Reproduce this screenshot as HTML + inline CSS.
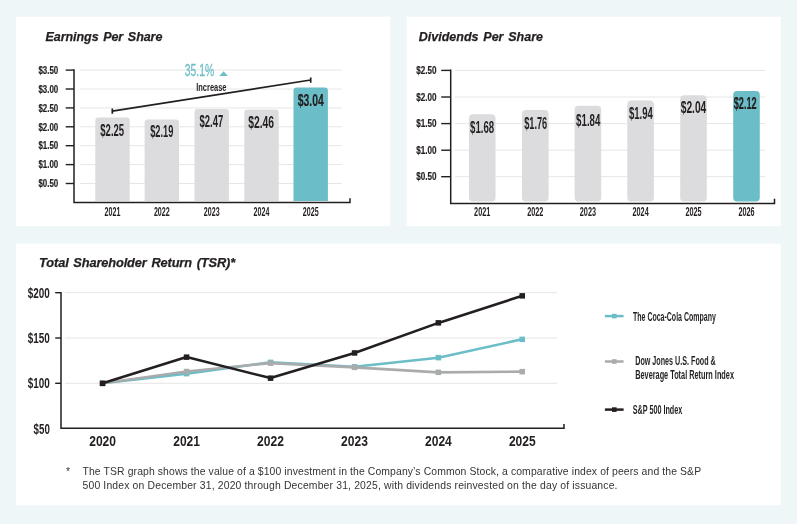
<!DOCTYPE html>
<html lang="en">
<head>
<meta charset="utf-8">
<title>Financial Highlights</title>
<style>
html,body{margin:0;padding:0}
body{width:797px;height:524px;background:#eef6f8;position:relative;overflow:hidden;font-family:"Liberation Sans",sans-serif;color:#231f20}
.card{position:absolute;background:#fff;margin:0}
#eps{left:16px;top:17px;width:374px;height:209px}
#dps{left:407px;top:17px;width:373px;height:209px}
#tsr{left:16px;top:244px;width:764px;height:261px}
h2{position:absolute;margin:0;font:italic bold 12.5px/14px "Liberation Sans",sans-serif;white-space:nowrap;color:#231f20;word-spacing:1.3px;letter-spacing:-0.07px;-webkit-text-stroke:0.25px #231f20}
svg{position:absolute;left:0;top:0;overflow:visible}
svg text{font-family:"Liberation Sans",sans-serif}
.note{position:absolute;left:50px;top:220.6px;margin:0;font:10.4px/14px "Liberation Sans",sans-serif;color:#343436;white-space:nowrap}
.note .l1{letter-spacing:0.113px}
.note .l2{letter-spacing:0.159px}
.note .star{position:absolute;left:0;top:0}
.note .txt{position:absolute;left:16.5px;top:0}
</style>
</head>
<body>
<svg class="bg" width="797" height="524" viewBox="0 0 797 524" aria-hidden="true">
<rect x="16" y="16.7" width="374.3" height="209.3" fill="#fff"/>
<rect x="406.6" y="16.7" width="374.1" height="209.3" fill="#fff"/>
<rect x="16" y="243.6" width="764.7" height="261.7" fill="#fff"/>
</svg>
<section class="card" id="eps">
<h2 style="left:29.6px;top:12.6px">Earnings Per Share</h2>
<svg width="374" height="209" viewBox="16 17 374 209" role="img" aria-label="Earnings Per Share bar chart">
<line x1="80" x2="342" y1="183.5" y2="183.5" stroke="#e6e6e6" stroke-width="1"/>
<line x1="80" x2="342" y1="164.6" y2="164.6" stroke="#e6e6e6" stroke-width="1"/>
<line x1="80" x2="342" y1="145.7" y2="145.7" stroke="#e6e6e6" stroke-width="1"/>
<line x1="80" x2="342" y1="126.8" y2="126.8" stroke="#e6e6e6" stroke-width="1"/>
<line x1="80" x2="342" y1="107.9" y2="107.9" stroke="#e6e6e6" stroke-width="1"/>
<line x1="80" x2="342" y1="89.0" y2="89.0" stroke="#e6e6e6" stroke-width="1"/>
<line x1="80" x2="342" y1="70.1" y2="70.1" stroke="#e6e6e6" stroke-width="1"/>
<path d="M95.3 201.0 V120.4 Q95.3 117.4 98.3 117.4 H126.7 Q129.7 117.4 129.7 120.4 V201.0 Z" fill="#dcdcde"/>
<path d="M144.6 201.0 V122.6 Q144.6 119.6 147.6 119.6 H176.0 Q179.0 119.6 179.0 122.6 V201.0 Z" fill="#dcdcde"/>
<path d="M194.5 201.0 V112.0 Q194.5 109.0 197.5 109.0 H225.9 Q228.9 109.0 228.9 112.0 V201.0 Z" fill="#dcdcde"/>
<path d="M244.3 201.0 V112.4 Q244.3 109.4 247.3 109.4 H275.7 Q278.7 109.4 278.7 112.4 V201.0 Z" fill="#dcdcde"/>
<path d="M293.5 201.0 V90.5 Q293.5 87.5 296.5 87.5 H324.9 Q327.9 87.5 327.9 90.5 V201.0 Z" fill="#6bbec7"/>
<path d="M74 69.3 V202.6 H350 V198.3" fill="none" stroke="#231f20" stroke-width="1.5"/>
<line x1="65.7" x2="74" y1="183.5" y2="183.5" stroke="#231f20" stroke-width="1.4"/>
<text x="38.4" y="187.2" font-size="11.4" font-weight="bold" fill="#231f20" textLength="19.8" lengthAdjust="spacingAndGlyphs" stroke="#231f20" stroke-width="0.2">$0.50</text>
<line x1="65.7" x2="74" y1="164.6" y2="164.6" stroke="#231f20" stroke-width="1.4"/>
<text x="38.4" y="168.3" font-size="11.4" font-weight="bold" fill="#231f20" textLength="19.8" lengthAdjust="spacingAndGlyphs" stroke="#231f20" stroke-width="0.2">$1.00</text>
<line x1="65.7" x2="74" y1="145.7" y2="145.7" stroke="#231f20" stroke-width="1.4"/>
<text x="38.4" y="149.4" font-size="11.4" font-weight="bold" fill="#231f20" textLength="19.8" lengthAdjust="spacingAndGlyphs" stroke="#231f20" stroke-width="0.2">$1.50</text>
<line x1="65.7" x2="74" y1="126.8" y2="126.8" stroke="#231f20" stroke-width="1.4"/>
<text x="38.4" y="130.5" font-size="11.4" font-weight="bold" fill="#231f20" textLength="19.8" lengthAdjust="spacingAndGlyphs" stroke="#231f20" stroke-width="0.2">$2.00</text>
<line x1="65.7" x2="74" y1="107.9" y2="107.9" stroke="#231f20" stroke-width="1.4"/>
<text x="38.4" y="111.6" font-size="11.4" font-weight="bold" fill="#231f20" textLength="19.8" lengthAdjust="spacingAndGlyphs" stroke="#231f20" stroke-width="0.2">$2.50</text>
<line x1="65.7" x2="74" y1="89.0" y2="89.0" stroke="#231f20" stroke-width="1.4"/>
<text x="38.4" y="92.7" font-size="11.4" font-weight="bold" fill="#231f20" textLength="19.8" lengthAdjust="spacingAndGlyphs" stroke="#231f20" stroke-width="0.2">$3.00</text>
<line x1="65.7" x2="74" y1="70.1" y2="70.1" stroke="#231f20" stroke-width="1.4"/>
<text x="38.4" y="73.8" font-size="11.4" font-weight="bold" fill="#231f20" textLength="19.8" lengthAdjust="spacingAndGlyphs" stroke="#231f20" stroke-width="0.2">$3.50</text>
<text x="104.6" y="215.8" font-size="12.3" font-weight="bold" fill="#231f20" textLength="15.8" lengthAdjust="spacingAndGlyphs">2021</text>
<text x="100.3" y="135.7" font-size="16.5" font-weight="bold" fill="#231f20" textLength="23.8" lengthAdjust="spacingAndGlyphs">$2.25</text>
<text x="153.9" y="215.8" font-size="12.3" font-weight="bold" fill="#231f20" textLength="15.8" lengthAdjust="spacingAndGlyphs">2022</text>
<text x="150.2" y="136.6" font-size="16.5" font-weight="bold" fill="#231f20" textLength="23.2" lengthAdjust="spacingAndGlyphs">$2.19</text>
<text x="203.8" y="215.8" font-size="12.3" font-weight="bold" fill="#231f20" textLength="15.8" lengthAdjust="spacingAndGlyphs">2023</text>
<text x="199.5" y="126.9" font-size="16.5" font-weight="bold" fill="#231f20" textLength="23.7" lengthAdjust="spacingAndGlyphs">$2.47</text>
<text x="253.6" y="215.8" font-size="12.3" font-weight="bold" fill="#231f20" textLength="15.8" lengthAdjust="spacingAndGlyphs">2024</text>
<text x="248.2" y="127.7" font-size="16.5" font-weight="bold" fill="#231f20" textLength="25.8" lengthAdjust="spacingAndGlyphs">$2.46</text>
<text x="302.8" y="215.8" font-size="12.3" font-weight="bold" fill="#231f20" textLength="15.8" lengthAdjust="spacingAndGlyphs">2025</text>
<text x="297.8" y="105.7" font-size="16.5" font-weight="bold" fill="#231f20" textLength="26.0" lengthAdjust="spacingAndGlyphs" stroke="#231f20" stroke-width="0.2">$3.04</text>
<path d="M112.3 111.2 L310.7 80 M112.3 108.6 V113.8 M310.7 77.4 V82.8" fill="none" stroke="#231f20" stroke-width="1.7"/>
<text x="184.8" y="76.2" font-size="17.4" font-weight="normal" fill="#6bbec7" textLength="29.3" lengthAdjust="spacingAndGlyphs" stroke="#6bbec7" stroke-width="0.3">35.1%</text>
<path d="M219.3 76 L223.6 71.2 L227.9 76 Z" fill="#6bbec7"/>
<text x="196.2" y="90.7" font-size="11.2" font-weight="bold" fill="#231f20" textLength="30.3" lengthAdjust="spacingAndGlyphs">Increase</text>
</svg>
</section>
<section class="card" id="dps">
<h2 style="left:11.8px;top:12.6px;letter-spacing:0">Dividends Per Share</h2>
<svg width="373" height="209" viewBox="407 17 373 209" role="img" aria-label="Dividends Per Share bar chart">
<line x1="455" x2="765" y1="176.7" y2="176.7" stroke="#e6e6e6" stroke-width="1"/>
<line x1="455" x2="765" y1="150.2" y2="150.2" stroke="#e6e6e6" stroke-width="1"/>
<line x1="455" x2="765" y1="123.6" y2="123.6" stroke="#e6e6e6" stroke-width="1"/>
<line x1="455" x2="765" y1="97.0" y2="97.0" stroke="#e6e6e6" stroke-width="1"/>
<line x1="455" x2="765" y1="70.4" y2="70.4" stroke="#e6e6e6" stroke-width="1"/>
<rect x="468.9" y="114.3" width="26.6" height="87.3" rx="4" ry="4" fill="#dcdcde"/>
<rect x="522.0" y="110.1" width="26.6" height="91.5" rx="4" ry="4" fill="#dcdcde"/>
<rect x="574.6" y="105.8" width="26.6" height="95.8" rx="4" ry="4" fill="#dcdcde"/>
<rect x="627.3" y="100.5" width="26.6" height="101.1" rx="4" ry="4" fill="#dcdcde"/>
<rect x="680.2" y="95.2" width="26.6" height="106.4" rx="4" ry="4" fill="#dcdcde"/>
<rect x="733.2" y="90.9" width="26.6" height="110.7" rx="4" ry="4" fill="#6bbec7"/>
<path d="M450.7 69.6 V203.4 H774.5 V198.8" fill="none" stroke="#231f20" stroke-width="1.5"/>
<line x1="441.2" x2="450.7" y1="176.7" y2="176.7" stroke="#231f20" stroke-width="1.4"/>
<text x="416.2" y="180.4" font-size="11.4" font-weight="bold" fill="#231f20" textLength="20.3" lengthAdjust="spacingAndGlyphs" stroke="#231f20" stroke-width="0.2">$0.50</text>
<line x1="441.2" x2="450.7" y1="150.2" y2="150.2" stroke="#231f20" stroke-width="1.4"/>
<text x="416.2" y="153.8" font-size="11.4" font-weight="bold" fill="#231f20" textLength="20.3" lengthAdjust="spacingAndGlyphs" stroke="#231f20" stroke-width="0.2">$1.00</text>
<line x1="441.2" x2="450.7" y1="123.6" y2="123.6" stroke="#231f20" stroke-width="1.4"/>
<text x="416.2" y="127.3" font-size="11.4" font-weight="bold" fill="#231f20" textLength="20.3" lengthAdjust="spacingAndGlyphs" stroke="#231f20" stroke-width="0.2">$1.50</text>
<line x1="441.2" x2="450.7" y1="97.0" y2="97.0" stroke="#231f20" stroke-width="1.4"/>
<text x="416.2" y="100.7" font-size="11.4" font-weight="bold" fill="#231f20" textLength="20.3" lengthAdjust="spacingAndGlyphs" stroke="#231f20" stroke-width="0.2">$2.00</text>
<line x1="441.2" x2="450.7" y1="70.4" y2="70.4" stroke="#231f20" stroke-width="1.4"/>
<text x="416.2" y="74.1" font-size="11.4" font-weight="bold" fill="#231f20" textLength="20.3" lengthAdjust="spacingAndGlyphs" stroke="#231f20" stroke-width="0.2">$2.50</text>
<text x="474.1" y="215.8" font-size="12.3" font-weight="bold" fill="#231f20" textLength="16.2" lengthAdjust="spacingAndGlyphs">2021</text>
<text x="470.1" y="132.6" font-size="16" font-weight="bold" fill="#231f20" textLength="24.1" lengthAdjust="spacingAndGlyphs">$1.68</text>
<text x="527.2" y="215.8" font-size="12.3" font-weight="bold" fill="#231f20" textLength="16.2" lengthAdjust="spacingAndGlyphs">2022</text>
<text x="524.2" y="128.9" font-size="16" font-weight="bold" fill="#231f20" textLength="23.0" lengthAdjust="spacingAndGlyphs">$1.76</text>
<text x="579.8" y="215.8" font-size="12.3" font-weight="bold" fill="#231f20" textLength="16.2" lengthAdjust="spacingAndGlyphs">2023</text>
<text x="576.1" y="125.5" font-size="16" font-weight="bold" fill="#231f20" textLength="24.3" lengthAdjust="spacingAndGlyphs">$1.84</text>
<text x="632.5" y="215.8" font-size="12.3" font-weight="bold" fill="#231f20" textLength="16.2" lengthAdjust="spacingAndGlyphs">2024</text>
<text x="629.0" y="118.6" font-size="16" font-weight="bold" fill="#231f20" textLength="23.8" lengthAdjust="spacingAndGlyphs">$1.94</text>
<text x="685.4" y="215.8" font-size="12.3" font-weight="bold" fill="#231f20" textLength="16.2" lengthAdjust="spacingAndGlyphs">2025</text>
<text x="680.7" y="113.2" font-size="16" font-weight="bold" fill="#231f20" textLength="25.6" lengthAdjust="spacingAndGlyphs">$2.04</text>
<text x="738.4" y="215.8" font-size="12.3" font-weight="bold" fill="#231f20" textLength="16.2" lengthAdjust="spacingAndGlyphs">2026</text>
<text x="733.8" y="109.2" font-size="16" font-weight="bold" fill="#231f20" textLength="22.8" lengthAdjust="spacingAndGlyphs" stroke="#231f20" stroke-width="0.2">$2.12</text>
</svg>
</section>
<section class="card" id="tsr">
<h2 style="left:23.1px;top:12.2px;font-size:12.8px;letter-spacing:-0.12px">Total Shareholder Return (TSR)*</h2>
<svg width="764" height="261" viewBox="16 244 764 261" role="img" aria-label="Total Shareholder Return line chart">
<line x1="65" x2="557" y1="383.3" y2="383.3" stroke="#e6e6e6" stroke-width="1"/>
<line x1="65" x2="557" y1="338.0" y2="338.0" stroke="#e6e6e6" stroke-width="1"/>
<line x1="65" x2="557" y1="292.7" y2="292.7" stroke="#e6e6e6" stroke-width="1"/>
<polyline points="102.6,383.3 186.6,373.6 270.5,362.3 354.5,366.8 438.4,357.7 522.3,339.3" fill="none" stroke="#6bbec7" stroke-width="2.6" stroke-linejoin="round"/>
<rect x="99.8" y="380.6" width="5.5" height="5.5" fill="#6bbec7"/>
<rect x="183.8" y="370.9" width="5.5" height="5.5" fill="#6bbec7"/>
<rect x="267.8" y="359.6" width="5.5" height="5.5" fill="#6bbec7"/>
<rect x="351.8" y="364.1" width="5.5" height="5.5" fill="#6bbec7"/>
<rect x="435.6" y="354.9" width="5.5" height="5.5" fill="#6bbec7"/>
<rect x="519.5" y="336.6" width="5.5" height="5.5" fill="#6bbec7"/>
<polyline points="102.6,383.3 186.6,371.5 270.5,363.1 354.5,367.4 438.4,372.4 522.3,371.6" fill="none" stroke="#a9abad" stroke-width="2.6" stroke-linejoin="round"/>
<rect x="99.8" y="380.6" width="5.5" height="5.5" fill="#a9abad"/>
<rect x="183.8" y="368.8" width="5.5" height="5.5" fill="#a9abad"/>
<rect x="267.8" y="360.4" width="5.5" height="5.5" fill="#a9abad"/>
<rect x="351.8" y="364.6" width="5.5" height="5.5" fill="#a9abad"/>
<rect x="435.6" y="369.6" width="5.5" height="5.5" fill="#a9abad"/>
<rect x="519.5" y="368.9" width="5.5" height="5.5" fill="#a9abad"/>
<polyline points="102.6,383.3 186.6,357.1 270.5,378.1 354.5,353.0 438.4,322.9 522.3,295.8" fill="none" stroke="#231f20" stroke-width="2.6" stroke-linejoin="round"/>
<rect x="99.8" y="380.6" width="5.5" height="5.5" fill="#231f20"/>
<rect x="183.8" y="354.4" width="5.5" height="5.5" fill="#231f20"/>
<rect x="267.8" y="375.4" width="5.5" height="5.5" fill="#231f20"/>
<rect x="351.8" y="350.2" width="5.5" height="5.5" fill="#231f20"/>
<rect x="435.6" y="320.1" width="5.5" height="5.5" fill="#231f20"/>
<rect x="519.5" y="293.1" width="5.5" height="5.5" fill="#231f20"/>
<path d="M61 291.9 V428.3 H564 V424" fill="none" stroke="#231f20" stroke-width="1.5"/>
<text x="33.6" y="433.9" font-size="14.9" font-weight="bold" fill="#231f20" textLength="16.2" lengthAdjust="spacingAndGlyphs">$50</text>
<line x1="55.2" x2="61" y1="383.3" y2="383.3" stroke="#231f20" stroke-width="1.4"/>
<text x="27.8" y="388.1" font-size="14.9" font-weight="bold" fill="#231f20" textLength="22.0" lengthAdjust="spacingAndGlyphs">$100</text>
<line x1="55.2" x2="61" y1="338.0" y2="338.0" stroke="#231f20" stroke-width="1.4"/>
<text x="27.8" y="342.8" font-size="14.9" font-weight="bold" fill="#231f20" textLength="22.0" lengthAdjust="spacingAndGlyphs">$150</text>
<line x1="55.2" x2="61" y1="292.7" y2="292.7" stroke="#231f20" stroke-width="1.4"/>
<text x="27.8" y="297.5" font-size="14.9" font-weight="bold" fill="#231f20" textLength="22.0" lengthAdjust="spacingAndGlyphs">$200</text>
<text x="89.2" y="445.9" font-size="14" font-weight="bold" fill="#231f20" textLength="26.8" lengthAdjust="spacingAndGlyphs">2020</text>
<text x="173.2" y="445.9" font-size="14" font-weight="bold" fill="#231f20" textLength="26.8" lengthAdjust="spacingAndGlyphs">2021</text>
<text x="257.1" y="445.9" font-size="14" font-weight="bold" fill="#231f20" textLength="26.8" lengthAdjust="spacingAndGlyphs">2022</text>
<text x="341.1" y="445.9" font-size="14" font-weight="bold" fill="#231f20" textLength="26.8" lengthAdjust="spacingAndGlyphs">2023</text>
<text x="425.0" y="445.9" font-size="14" font-weight="bold" fill="#231f20" textLength="26.8" lengthAdjust="spacingAndGlyphs">2024</text>
<text x="508.9" y="445.9" font-size="14" font-weight="bold" fill="#231f20" textLength="26.8" lengthAdjust="spacingAndGlyphs">2025</text>
<line x1="604.9" x2="623.6" y1="316.1" y2="316.1" stroke="#6bbec7" stroke-width="2.5"/><rect x="612.0" y="313.8" width="4.6" height="4.6" fill="#6bbec7"/>
<text x="633.0" y="320.6" font-size="12.2" font-weight="bold" fill="#231f20" textLength="82.8" lengthAdjust="spacingAndGlyphs">The Coca-Cola Company</text>
<line x1="604.9" x2="623.6" y1="361.5" y2="361.5" stroke="#a9abad" stroke-width="2.5"/><rect x="612.0" y="359.2" width="4.6" height="4.6" fill="#a9abad"/>
<text x="635.2" y="365.2" font-size="12.2" font-weight="bold" fill="#231f20" textLength="80.6" lengthAdjust="spacingAndGlyphs">Dow Jones U.S. Food &amp;</text>
<text x="635.2" y="379.4" font-size="12.2" font-weight="bold" fill="#231f20" textLength="98.8" lengthAdjust="spacingAndGlyphs">Beverage Total Return Index</text>
<line x1="604.9" x2="623.6" y1="409.6" y2="409.6" stroke="#231f20" stroke-width="2.5"/><rect x="612.0" y="407.3" width="4.6" height="4.6" fill="#231f20"/>
<text x="632.7" y="413.6" font-size="12.2" font-weight="bold" fill="#231f20" textLength="49.6" lengthAdjust="spacingAndGlyphs">S&amp;P 500 Index</text>
</svg>
<p class="note"><span class="star">*</span><span class="txt"><span class="l1">The TSR graph shows the value of a $100 investment in the Company’s Common Stock, a comparative index of peers and the S&amp;P</span><br><span class="l2">500 Index on December 31, 2020 through December 31, 2025, with dividends reinvested on the day of issuance.</span></span></p>
</section>
</body>
</html>
